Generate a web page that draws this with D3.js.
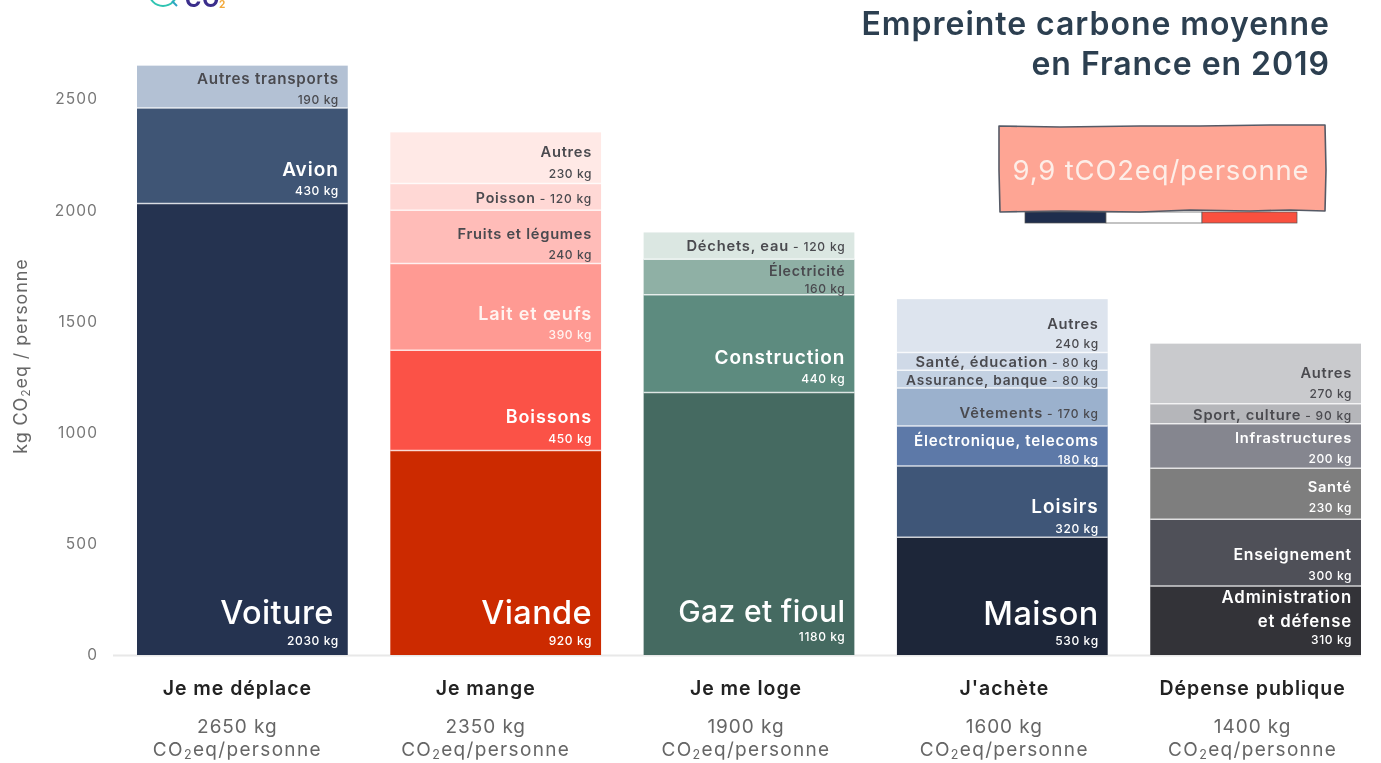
<!DOCTYPE html>
<html lang="fr"><head><meta charset="utf-8">
<script src="https://cdn.jsdelivr.net/npm/d3@7"></script>
<style>html,body{margin:0;padding:0;background:#fff;overflow:hidden}svg{display:block;filter:blur(.35px)}text{font-family:Inter,"Noto Sans",sans-serif;letter-spacing:.05em}</style>
</head><body><svg id="c" width="1381" height="763"></svg>
<script>
const categories=["Je me déplace","Je mange","Je me loge","J'achète","Dépense publique"];
const totals=["2650 kg","2350 kg","1900 kg","1600 kg","1400 kg"];
const yTicks=[0,500,1000,1500,2000,2500];
const segmentNames=[
 ["Voiture","Avion","Autres transports"],
 ["Viande","Boissons","Lait et œufs","Fruits et légumes","Poisson","Autres"],
 ["Gaz et fioul","Construction","Électricité","Déchets, eau"],
 ["Maison","Loisirs","Électronique, telecoms","Vêtements","Assurance, banque","Santé, éducation","Autres"],
 ["Administration\net défense","Enseignement","Santé","Infrastructures","Sport, culture","Autres"]];
const segmentValues=[
 [2030,430,190],
 [920,450,390,240,120,230],
 [1180,440,160,120],
 [530,320,180,170,80,80,240],
 [310,300,230,200,90,270]];
const segmentColors=[
 ["#253350","#3f5575","#b3c1d4"],
 ["#cc2a00","#fb5247","#ff9a93","#ffbcb8","#ffd8d5","#ffe9e6"],
 ["#456a61","#5d8b7f","#8fb0a5","#dbe7e2"],
 ["#1d2639","#3f5678","#5d79a8","#9bb1cd","#c3d1e2","#cfd9e7","#dde4ee"],
 ["#333338","#4f5058","#7e7e7e","#85868f","#b5b6ba","#c9cacd"]];
// label layout: [font size, name rise above segment base, value rise (null = inline "name - value"), extra right inset]
const labelLayout=[
 [[32.5,31,10,5],[19,28,9],[15.2,24,4]],
 [[32.5,31,10],[18,27,7],[18,30,11],[14.7,25,5],[14.2,7,null],[14.7,27,6]],
 [[30,33,14],[19,29,10],[14.2,19,2],[14.7,8,null]],
 [[32.5,30,10],[19,24,4],[15.2,20,2],[14.7,8,null],[13.7,3,null],[14.7,3,null],[14.7,24,5]],
 [[16.8,52,11],[15.8,26,6],[14.7,27,7],[14.7,25,5],[14.7,4,null],[14.7,26,6]]];
const darkText=["#b3c1d4","#ffd8d5","#ffe9e6","#ffbcb8","#dbe7e2","#8fb0a5","#9bb1cd","#c3d1e2","#cfd9e7","#dde4ee","#b5b6ba","#c9cacd"];
const captionShift=[-5,-10,-3,2,-3];

const svg=d3.select("#c");
const y=d3.scaleLinear().domain([0,2500]).range([655,99]);
const x=d3.scaleBand().domain(categories).range([137,1361]).paddingInner(0.168).paddingOuter(0);

svg.append("line").attr("x1",113).attr("x2",1361).attr("y1",y(0)+.5).attr("y2",y(0)+.5).attr("stroke","#e8e8e8").attr("stroke-width",2);

const ax=svg.append("g").attr("transform","translate(107,0)").call(d3.axisLeft(y).tickValues(yTicks).tickSize(0).tickPadding(9).tickFormat(d3.format("d")));
ax.select(".domain").remove();
ax.selectAll("text").attr("font-size",15.5).attr("fill","#777").style("font-family","Inter,sans-serif").style("letter-spacing",".07em");

const yl=svg.append("text").attr("transform","translate(27,356) rotate(-90)").attr("text-anchor","middle").attr("font-size",18).attr("fill","#666");
yl.append("tspan").text("kg CO");
yl.append("tspan").text("2").attr("font-size",12).attr("dy",3);
yl.append("tspan").text("eq / personne").attr("dy",-3);

categories.forEach((c,i)=>{
 const g=svg.append("g");
 const bx=x(c), bw=x.bandwidth();
 let cum=0;
 segmentValues[i].forEach((v,j)=>{
  const y0=y(cum), y1=y(cum+v); cum+=v;
  const col=segmentColors[i][j];
  g.append("rect").attr("x",bx).attr("y",y1).attr("width",bw).attr("height",y0-y1).attr("fill",col);
  if(j>0) g.append("line").attr("x1",bx).attr("x2",bx+bw).attr("y1",y0).attr("y2",y0).attr("stroke","#fff").attr("stroke-opacity",.75).attr("stroke-width",1.5);
 });
 cum=0;
 segmentValues[i].forEach((v,j)=>{
  const y0=y(cum); cum+=v;
  const col=segmentColors[i][j];
  const [fs,nr,vr,inset]=labelLayout[i][j];
  const right=bx+bw-9, nameRight=right-(inset||0);
  const tc=darkText.includes(col)?"#4a4a4f":(col==="#ff9a93"?"#fff3f0":"#fff");
  const weight=fs>=26?500:600;
  if(vr===null){
   const t=g.append("text").attr("x",right).attr("y",y0-nr).attr("text-anchor","end").attr("fill",tc);
   t.append("tspan").text(segmentNames[i][j]).attr("font-size",fs).attr("font-weight",600);
   t.append("tspan").text(" - "+v+" kg").attr("font-size",12).attr("font-weight",500);
  } else {
   const lines=segmentNames[i][j].split("\n");
   lines.forEach((l,k)=>{
    const t=g.append("text").attr("x",nameRight).attr("y",y0-nr+k*24).attr("text-anchor","end").attr("fill",tc).attr("font-size",fs).attr("font-weight",weight).text(l);
    if(fs>=26) t.style("letter-spacing",".012em");
   });
   g.append("text").attr("x",right).attr("y",y0-vr).attr("text-anchor","end").attr("fill",tc).attr("font-size",12).attr("font-weight",500).text(v+" kg");
  }
 });
 const cx=bx+bw/2+captionShift[i];
 svg.append("text").attr("x",cx).attr("y",695).attr("text-anchor","middle").attr("font-size",19.5).attr("font-weight",600).attr("fill","#222").text(c);
 svg.append("text").attr("x",cx).attr("y",733).attr("text-anchor","middle").attr("font-size",19).attr("fill","#666").text(totals[i]);
 const s=svg.append("text").attr("x",cx).attr("y",756).attr("text-anchor","middle").attr("font-size",19).attr("fill","#666").style("letter-spacing",".07em");
 s.append("tspan").text("CO");
 s.append("tspan").text("2").attr("font-size",12.5).attr("dy",3);
 s.append("tspan").text("eq/personne").attr("dy",-3);
});

const titleLines=["Empreinte carbone moyenne","en France en 2019"];
titleLines.forEach((l,i)=>svg.append("text").attr("x",1330).attr("y",35+i*40).attr("text-anchor","end").attr("font-size",32).attr("font-weight",600).attr("fill","#2c3f50").style("letter-spacing",".03em").text(l));

const wob=d3.line();
const flag=[["#1f2e4d",1025,1106],["#ffffff",1106,1202],["#f9503f",1202,1297]];
flag.forEach(f=>svg.append("rect").attr("x",f[1]).attr("y",212).attr("width",f[2]-f[1]).attr("height",11).attr("fill",f[0]).attr("stroke","#555").attr("stroke-width",.7));
const box=[[999,126],[1060,127],[1140,126],[1200,126],[1270,125],[1325,125],[1326,170],[1325,211],[1290,210],[1250,211],[1190,210],[1140,212],[1060,211],[1000,212],[999,170],[999,126]];
svg.append("path").attr("d",wob(box)+"Z").attr("fill","#fea594").attr("stroke","#555a66").attr("stroke-width",1.6).attr("stroke-linejoin","round");
svg.append("text").attr("x",1161).attr("y",180).attr("text-anchor","middle").attr("font-size",27.5).attr("font-weight",400).attr("fill","#fdeee8").style("letter-spacing",".03em").text("9,9 tCO2eq/personne");

svg.append("circle").attr("cx",163).attr("cy",-8).attr("r",14).attr("fill","none").attr("stroke","#2fc4b2").attr("stroke-width",2);
svg.append("line").attr("x1",172).attr("y1",1).attr("x2",177).attr("y2",6).attr("stroke","#2fa4c4").attr("stroke-width",2);
svg.append("text").attr("x",185).attr("y",7).attr("font-size",22).attr("font-weight",700).attr("fill","#3b2e8c").text("CO");
svg.append("text").attr("x",219).attr("y",8).attr("font-size",10).attr("font-weight",700).attr("fill","#f2a93b").text("2");
</script></body></html>
